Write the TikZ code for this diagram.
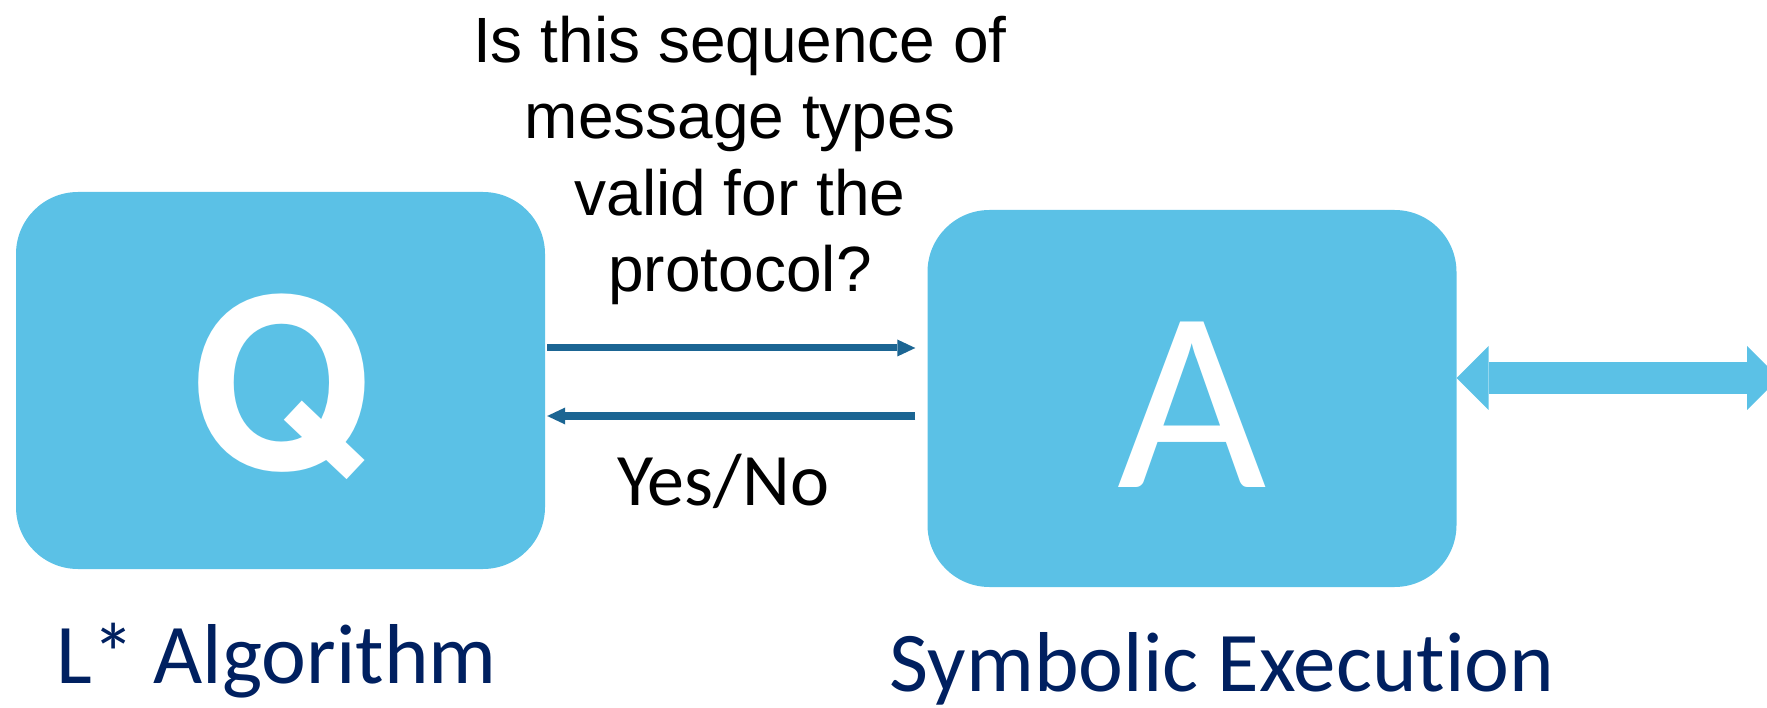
\documentclass[tikz,border=0pt]{standalone}
\usepackage{fontspec}
\setmainfont{Liberation Sans}
\newfontfamily\carlito{Carlito}[Ligatures=NoCommon]
\newfontfamily\qfont{TeX Gyre Heros}
\usetikzlibrary{arrows.meta}
\definecolor{boxblue}{HTML}{5BC1E6}
\definecolor{arrowblue}{HTML}{1B6593}
\definecolor{navy}{HTML}{002060}
\tikzset{
  stage/.style={fill=boxblue, draw=none, rounded corners=62pt, minimum width=529pt,
    minimum height=377pt, inner sep=0pt, text=white, text height=177pt, text depth=0pt},
  qarrow/.style={draw=arrowblue, line width=7pt,
    -{Triangle[length=18pt,width=17pt,line width=0pt]}},
  linkarrow/.style={draw=boxblue, line width=32pt,
    {Triangle[length=32pt,width=64pt,line width=0pt]}-{Triangle[length=32pt,width=64pt,line width=0pt]}},
  caption/.style={font=\carlito\fontsize{85}{85}\selectfont, text=navy, anchor=base, inner sep=0pt}
}
\begin{document}
\begin{tikzpicture}[x=1pt,y=-1pt]
\useasboundingbox (0,0) rectangle (1767,708);
\clip (0,0) rectangle (1767,708);
\node[stage, font=\qfont\bfseries\fontsize{237}{237}\selectfont] (Q) at (280.5,380.5) {Q};
\node[stage, font=\carlito\fontsize{258}{258}\selectfont] (A) at (1192,398.5) {A};
\draw[qarrow, shorten <=2pt, shorten >=12pt] (Q.east |- 0,348) -- (A.west |- 0,348);
\draw[qarrow, shorten <=12pt, shorten >=2pt] (A.west |- 0,416) -- (Q.east |- 0,416);
\coordinate (far) at (1779,378);
\draw[linkarrow] (A.east |- far) -- (far);
\node[font=\fontsize{64}{76.5}\selectfont, align=center, anchor=base, inner sep=0pt] (question) at (740,292)
  {Is this sequence of\\message types\\valid for the\\protocol?};
\node[font=\carlito\fontsize{74}{74}\selectfont, anchor=base, inner sep=0pt] (yn) at (723,505) {Yes/No};
\node[caption] (lQ) at (276.5,683) {L* Algorithm};
\node[caption] (lA) at (1222,691) {Symbolic Execution};
\end{tikzpicture}
\end{document}
